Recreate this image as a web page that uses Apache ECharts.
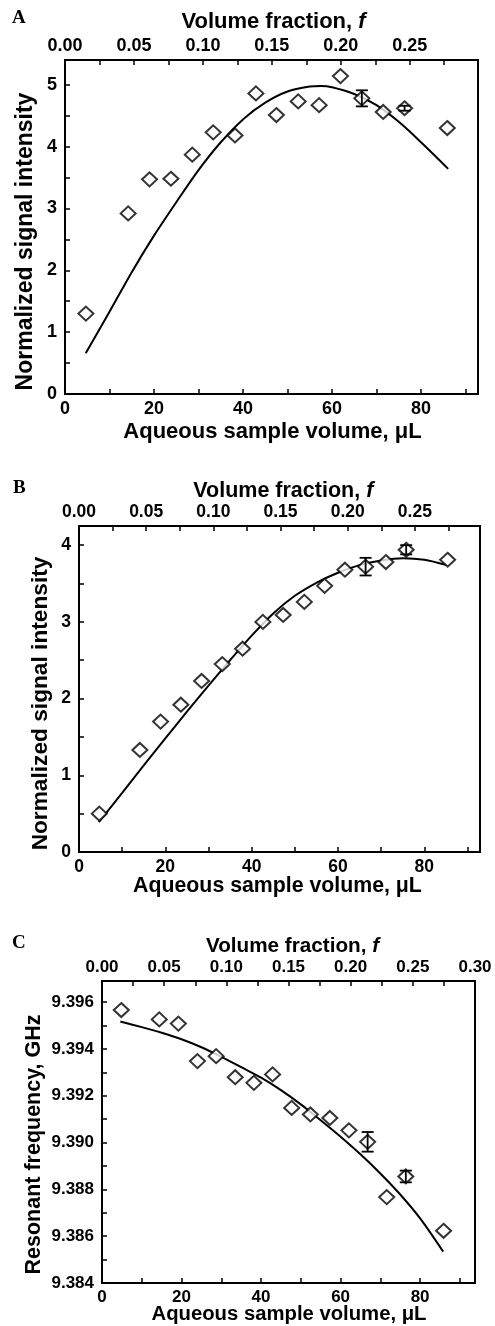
<!DOCTYPE html>
<html><head><meta charset="utf-8">
<script src="https://cdn.jsdelivr.net/npm/echarts@6/dist/echarts.min.js"></script>
<style>html,body{margin:0;padding:0;background:#fff}#c{width:495px;height:1326px}</style>
</head><body><div id="c"></div>
<script>
// ---------- Panel A ----------
const volA = [4.7, 14.2, 19.0, 23.8, 28.6, 33.3, 38.2, 42.9, 47.5, 52.4, 57.1, 61.9, 66.7, 71.5, 76.3, 85.9];
const sigA = [1.30, 2.92, 3.47, 3.48, 3.87, 4.23, 4.18, 4.86, 4.51, 4.73, 4.67, 5.14, 4.78, 4.56, 4.62, 4.30];
const fitVolA = [4.65, 10, 15, 20, 25, 30, 35, 40, 45, 50, 55, 57.5, 60, 65, 70, 75, 80, 86.1];
const fitSigA = [0.66, 1.33, 1.97, 2.56, 3.10, 3.62, 4.07, 4.44, 4.71, 4.89, 4.97, 4.98, 4.96, 4.85, 4.67, 4.40, 4.07, 3.64];
const errVolA = [66.7, 76.3];
const errSigA = [4.78, 4.62];
const errSizeA = [0.13, 0.04];
// ---------- Panel B ----------
const volB = [4.7, 14.1, 18.9, 23.6, 28.4, 33.2, 37.9, 42.6, 47.3, 52.2, 56.9, 61.6, 66.4, 71.1, 75.8, 85.4];
const sigB = [0.50, 1.33, 1.70, 1.92, 2.23, 2.45, 2.65, 3.00, 3.09, 3.26, 3.47, 3.68, 3.72, 3.78, 3.94, 3.81];
const fitVolB = [4.6, 10, 15, 20, 25, 30, 35, 40, 45, 50, 55, 60, 65, 70, 75, 80, 85.2];
const fitSigB = [0.39, 0.77, 1.13, 1.48, 1.83, 2.17, 2.50, 2.82, 3.11, 3.34, 3.51, 3.64, 3.74, 3.80, 3.83, 3.81, 3.74];
const errVolB = [66.4, 75.8];
const errSigB = [3.72, 3.94];
const errSizeB = [0.115, 0.06];
// ---------- Panel C ----------
const volC = [4.85, 14.4, 19.2, 24.0, 28.7, 33.5, 38.2, 42.9, 47.7, 52.4, 57.3, 62.1, 66.8, 71.6, 76.4, 85.9];
const freqC = [9.39566, 9.39526, 9.39508, 9.39348, 9.39369, 9.39279, 9.39255, 9.39291, 9.39148, 9.39120, 9.39105, 9.39052, 9.39003, 9.38767, 9.38855, 9.38623];
const fitVolC = [4.6, 10, 15, 20, 25, 30, 35, 40, 45, 50, 55, 60, 65, 70, 75, 80, 85.8];
const fitFreqC = [9.39517, 9.39493, 9.39469, 9.39441, 9.39407, 9.39366, 9.39322, 9.39277, 9.39224, 9.39163, 9.39095, 9.39025, 9.38950, 9.38868, 9.38778, 9.38676, 9.38534];
const errVolC = [66.8, 76.4];
const errFreqC = [9.39003, 9.38855];
const errSizeC = [0.00042, 0.00025];
// ---------- Axis ranges / ticks ----------
const volTickStep = 10, volLabelStep = 20;
const fracTickStep = 0.025, fracLabelStep = 0.05;
const panelLetters = ['A', 'B', 'C'];
const topTitle = 'Volume fraction, ';
const bottomTitle = 'Aqueous sample volume, \u03bcL';
const yTitles = ['Normalized signal intensity', 'Normalized signal intensity', 'Resonant frequency, GHz'];

const zip = (a, b) => a.map((v, i) => [v, b[i]]);
const zip3 = (a, b, c) => a.map((v, i) => [v, b[i], c[i]]);
const SANS = '"Liberation Sans", Arial, sans-serif';

const panels = [
  { grid: { left: 65, right: 17, top: 60, height: 334 }, xMax: 92.8, fMax: 0.2995, yMin: 0, yMax: 5.4, yStep: 0.5,
    yFmt: v => Math.abs(v - Math.round(v)) < 1e-6 ? String(Math.round(v)) : '', tick: 18,
    pts: zip(volA, sigA), fit: zip(fitVolA, fitSigA), err: zip3(errVolA, errSigA, errSizeA) },
  { grid: { left: 79, right: 15, top: 526, height: 326 }, xMax: 92.9, fMax: 0.2985, yMin: 0, yMax: 4.25, yStep: 0.5,
    yFmt: v => Math.abs(v - Math.round(v)) < 1e-6 ? String(Math.round(v)) : '', tick: 17.5,
    pts: zip(volB, sigB), fit: zip(fitVolB, fitSigB), err: zip3(errVolB, errSigB, errSizeB) },
  { grid: { left: 102, right: 20, top: 981, height: 302 }, xMax: 93.8, fMax: 0.30, yMin: 9.384, yMax: 9.3969, yStep: 0.001,
    yFmt: v => { const k = Math.round((v - 9.384) / 0.002); return Math.abs(v - 9.384 - k * 0.002) < 1e-7 ? v.toFixed(3) : ''; }, tick: 17,
    pts: zip(volC, freqC), fit: zip(fitVolC, fitFreqC), err: zip3(errVolC, errFreqC, errSizeC) }
];

const axisCommon = (fs) => ({
  axisLine: { show: true, onZero: false, lineStyle: { color: '#000', width: 2 } },
  axisTick: { show: true, inside: true, length: 5, lineStyle: { color: '#000', width: 1.5 } },
  splitLine: { show: false },
  axisLabel: { color: '#000', fontFamily: SANS, fontWeight: 'bold', fontSize: fs, showMinLabel: true, showMaxLabel: true, hideOverlap: false }
});

const grids = [], xAxes = [], yAxes = [], series = [];
panels.forEach((p, i) => {
  grids.push(Object.assign({ show: true, borderColor: '#000', borderWidth: 2, backgroundColor: 'transparent' }, p.grid));
  const c = axisCommon(p.tick);
  xAxes.push(Object.assign({}, c, { type: 'value', gridIndex: i, position: 'bottom', min: 0, max: p.xMax, interval: volTickStep,
    axisLabel: Object.assign({}, c.axisLabel, { margin: 6, formatter: v => (Math.abs(v - Math.round(v)) < 1e-6 && Math.round(v) % volLabelStep === 0) ? String(Math.round(v)) : '' }) }));
  xAxes.push(Object.assign({}, c, { type: 'value', gridIndex: i, position: 'top', min: 0, max: p.fMax, interval: fracTickStep,
    axisLabel: Object.assign({}, c.axisLabel, { margin: 5, formatter: v => { const k = Math.round(v / fracLabelStep); return Math.abs(v - k * fracLabelStep) < 1e-6 ? (k * fracLabelStep).toFixed(2) : ''; } }) }));
  yAxes.push(Object.assign({}, c, { type: 'value', gridIndex: i, min: p.yMin, max: p.yMax, interval: p.yStep,
    axisLabel: Object.assign({}, c.axisLabel, { margin: 8, formatter: p.yFmt }) }));
  const xi = i * 2;
  series.push({ type: 'line', xAxisIndex: xi, yAxisIndex: i, data: p.fit, smooth: 0.3, showSymbol: false, symbol: 'none',
    lineStyle: { color: '#000', width: 2 }, z: 2, silent: true, animation: false });
  series.push({ type: 'scatter', xAxisIndex: xi, yAxisIndex: i, data: p.pts, symbol: 'diamond', symbolSize: [15, 14],
    itemStyle: { color: '#fff', borderColor: '#000', borderWidth: 2 }, z: 3, silent: true, animation: false });
  series.push({ type: 'custom', xAxisIndex: xi, yAxisIndex: i, data: p.err, z: 4, silent: true, animation: false,
    renderItem: (params, api) => {
      const x = api.value(0), y = api.value(1), e = api.value(2);
      const t = api.coord([x, y + e]), b = api.coord([x, y - e]);
      const w = 6, st = { stroke: '#000', lineWidth: 1.8 };
      return { type: 'group', children: [
        { type: 'line', shape: { x1: t[0], y1: t[1], x2: b[0], y2: b[1] }, style: st },
        { type: 'line', shape: { x1: t[0] - w, y1: t[1], x2: t[0] + w, y2: t[1] }, style: st },
        { type: 'line', shape: { x1: b[0] - w, y1: b[1], x2: b[0] + w, y2: b[1] }, style: st }
      ] };
    } });
});

// title positions (centres)
const titleLayout = [
  { letter: [12, 28], top: [273.5, 21.7, 22], bottom: [272.5, 432, 22], y: [25.3, 241.5, 23] },
  { letter: [13, 498], top: [283.3, 490.8, 21.5], bottom: [277.5, 886, 21.3], y: [40.3, 703.5, 22.7] },
  { letter: [12, 953], top: [292.5, 946.1, 20.7], bottom: [289, 1314, 20.3], y: [34.2, 1144.5, 21.5] }
];
const graphics = [];
titleLayout.forEach((t, i) => {
  graphics.push({ type: 'text', x: t.letter[0], y: t.letter[1], style: { text: panelLetters[i], font: 'bold 19px "Liberation Serif", "Times New Roman", serif', fill: '#000', textVerticalAlign: 'bottom' } });
  graphics.push({ type: 'text', x: t.top[0], y: t.top[1], style: { text: '{n|' + topTitle + '}{i|f}', align: 'center', verticalAlign: 'middle',
    rich: { n: { fontFamily: SANS, fontWeight: 'bold', fontSize: t.top[2], fill: '#000', color: '#000' },
            i: { fontFamily: SANS, fontWeight: 'bold', fontStyle: 'italic', fontSize: t.top[2], fill: '#000', color: '#000' } } } });
  graphics.push({ type: 'text', x: t.bottom[0], y: t.bottom[1], style: { text: bottomTitle, align: 'center', verticalAlign: 'middle',
    font: 'bold ' + t.bottom[2] + 'px ' + SANS, fill: '#000' } });
  graphics.push({ type: 'text', x: t.y[0], y: t.y[1], rotation: Math.PI / 2, style: { text: yTitles[i], align: 'center', verticalAlign: 'middle',
    font: 'bold ' + t.y[2] + 'px ' + SANS, fill: '#000' } });
});

const chart = echarts.init(document.getElementById('c'), null, { renderer: 'canvas' });
chart.setOption({ backgroundColor: '#fff', animation: false, grid: grids, xAxis: xAxes, yAxis: yAxes, series: series, graphic: graphics });
</script></body></html>
